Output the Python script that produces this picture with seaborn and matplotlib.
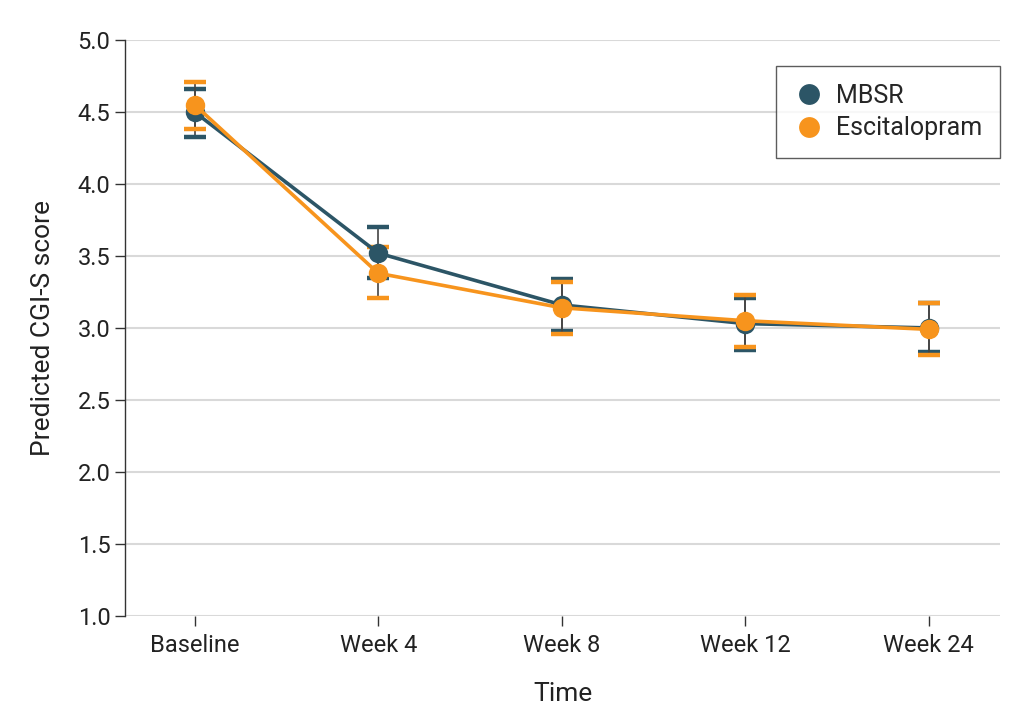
import matplotlib
matplotlib.use("Agg")
from matplotlib import pyplot as plt
import seaborn as sns
import pandas as pd

# valeurs
time_labels = ["Baseline", "Week 4", "Week 8", "Week 12", "Week 24"]
mbsr_mean = [4.50, 3.52, 3.16, 3.03, 3.00]
mbsr_low = [4.33, 3.35, 2.98, 2.85, 2.83]
mbsr_high = [4.66, 3.70, 3.34, 3.21, 3.17]
esc_mean = [4.55, 3.38, 3.14, 3.05, 2.99]
esc_low = [4.38, 3.21, 2.96, 2.87, 2.81]
esc_high = [4.71, 3.56, 3.32, 3.23, 3.17]

colors = {"MBSR": "#2c5566", "Escitalopram": "#f7941d"}

rows = []
for i, t in enumerate(time_labels):
    rows.append({"pos": i, "time": t, "group": "MBSR", "score": mbsr_mean[i],
                 "low": mbsr_low[i], "high": mbsr_high[i]})
    rows.append({"pos": i, "time": t, "group": "Escitalopram", "score": esc_mean[i],
                 "low": esc_low[i], "high": esc_high[i]})
df = pd.DataFrame(rows)

sns.set_style("white")
plt.rcParams["font.family"] = ["Roboto", "DejaVu Sans"]

fig = plt.figure(figsize=(10.24, 7.16), dpi=100)
ax = fig.add_axes([0.122, 0.140, 0.855, 0.804])

# barres d'erreur: trait vertical gris, chapeaux colorés
for g in ["MBSR", "Escitalopram"]:
    d = df[df["group"] == g]
    _, caps, _ = ax.errorbar(d["pos"], d["score"],
                             yerr=[d["score"] - d["low"], d["high"] - d["score"]],
                             fmt="none", ecolor="#444444", elinewidth=1.2,
                             capsize=8, capthick=3.2, zorder=3)
    for c in caps:
        c.set_markeredgecolor(colors[g])
        c.set_markerfacecolor(colors[g])

sns.lineplot(data=df, x="pos", y="score", hue="group", hue_order=["MBSR", "Escitalopram"],
             palette=colors, marker="o", markersize=14, markeredgewidth=0,
             linewidth=2.6, ax=ax, zorder=4, legend=False)

ax.set_ylim(1.0, 5.0)
ax.set_xlim(-0.38, 4.39)
ax.set_yticks([1.0, 1.5, 2.0, 2.5, 3.0, 3.5, 4.0, 4.5, 5.0])
ax.set_yticklabels([f"{v:.1f}" for v in ax.get_yticks()])
ax.set_xticks(range(len(time_labels)))
ax.set_xticklabels(time_labels)
ax.yaxis.grid(True, color="#d9d9d9", linewidth=1.5)
ax.set_axisbelow(True)

for s in ["top", "right", "bottom"]:
    ax.spines[s].set_visible(False)
ax.spines["left"].set_color("#333333")
ax.spines["left"].set_linewidth(1)
ax.tick_params(axis="both", which="major", direction="out", length=7, width=1,
               color="#333333", labelsize=17, labelcolor="#222222", left=True, bottom=True)
ax.tick_params(axis="x", pad=6)

ax.set_xlabel("Time", fontsize=19, color="#222222", labelpad=18)
ax.set_ylabel("Predicted CGI-S score", fontsize=19, color="#222222", labelpad=16)

# légende
handles = [plt.Line2D([], [], marker="o", linestyle="none", markersize=15,
                      color=colors[g], markeredgewidth=0) for g in ["MBSR", "Escitalopram"]]
leg = ax.legend(handles, ["MBSR", "Escitalopram"], loc="upper right",
                bbox_to_anchor=(0.9995, 0.955), fontsize=18, frameon=True, fancybox=False,
                edgecolor="#333333", handletextpad=0.5, borderpad=0.7, labelspacing=0.35,
                handlelength=1.2, borderaxespad=0)
leg.get_frame().set_linewidth(1)

plt.savefig("out.png", dpi=100)
